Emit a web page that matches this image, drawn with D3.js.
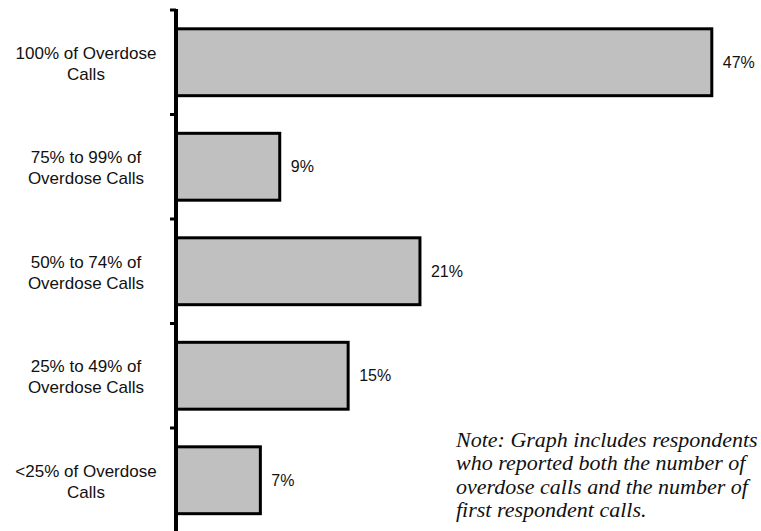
<!DOCTYPE html>
<html>
<head>
<meta charset="utf-8">
<script src="https://cdn.jsdelivr.net/npm/d3@7"></script>
<style>
    body { margin: 0; background: #fff; }
    svg { display: block; }
</style>
</head>
<body>
<svg id="drawing_region"></svg>
<script>
// categories, top to bottom
const categories = [
    ['100% of Overdose', 'Calls'],
    ['75% to 99% of', 'Overdose Calls'],
    ['50% to 74% of', 'Overdose Calls'],
    ['25% to 49% of', 'Overdose Calls'],
    ['<25% of Overdose', 'Calls']
];
// share of respondents (%)
const values = [47, 9.1, 21.4, 15.1, 7.4];
const noteLines = [
    'Note: Graph includes respondents',
    'who reported both the number of',
    'overdose calls and the number of',
    'first respondent calls.'
];

const width = 761, height = 531;
const svg = d3.select('#drawing_region')
    .attr('width', width)
    .attr('height', height);

const data = values.map((v, i) => ({ key: String(i), label: categories[i], value: v }));

const yscale = d3.scaleBand()
    .domain(data.map(d => d.key))
    .range([10, 532.5])
    .paddingInner(0.36)
    .paddingOuter(0.18);

const xscale = d3.scaleLinear()
    .domain([0, 50])
    .range([176, 746]);

// bars
svg.selectAll('rect.bar')
    .data(data)
    .join('rect')
    .attr('class', 'bar')
    .attr('x', xscale(0))
    .attr('y', d => yscale(d.key))
    .attr('width', d => xscale(d.value) - xscale(0))
    .attr('height', yscale.bandwidth())
    .attr('fill', '#c0c0c0')
    .attr('stroke', '#000')
    .attr('stroke-width', 3);

// value labels
svg.selectAll('text.value')
    .data(data)
    .join('text')
    .attr('class', 'value')
    .attr('x', d => xscale(d.value) + 11)
    .attr('y', d => yscale(d.key) + yscale.bandwidth() / 2)
    .attr('dy', '0.35em')
    .attr('font-family', 'Liberation Sans, Arial, sans-serif')
    .attr('font-size', 16)
    .attr('fill', '#111')
    .text(d => Math.round(d.value) + '%');

// category labels (two lines, centred)
const cat = svg.selectAll('text.cat')
    .data(data)
    .join('text')
    .attr('class', 'cat')
    .attr('text-anchor', 'middle')
    .attr('font-family', 'Liberation Sans, Arial, sans-serif')
    .attr('font-size', 17)
    .attr('fill', '#111')
    .attr('y', d => yscale(d.key) + yscale.bandwidth() / 2);
cat.selectAll('tspan')
    .data(d => d.label)
    .join('tspan')
    .attr('x', 86)
    .attr('dy', (d, i) => i === 0 ? '-0.22em' : '1.25em')
    .text(d => d);

// axis line with small ticks at band edges
const step = yscale.step();
const edges = data.map(d => yscale(d.key) - yscale.paddingOuter() * step);
svg.append('line')
    .attr('x1', 176).attr('x2', 176)
    .attr('y1', 9).attr('y2', height)
    .attr('stroke', '#000')
    .attr('stroke-width', 4);
svg.selectAll('line.tick')
    .data(edges)
    .join('line')
    .attr('class', 'tick')
    .attr('x1', 170).attr('x2', 176)
    .attr('y1', d => d).attr('y2', d => d)
    .attr('stroke', '#000')
    .attr('stroke-width', 3);

// note
svg.append('text')
    .attr('font-family', 'Liberation Serif, Times New Roman, serif')
    .attr('font-style', 'italic')
    .attr('font-size', 22)
    .attr('fill', '#111')
    .selectAll('tspan')
    .data(noteLines)
    .join('tspan')
    .attr('x', 456)
    .attr('y', (d, i) => 447 + i * 23.4)
    .text(d => d);
</script>
</body>
</html>
